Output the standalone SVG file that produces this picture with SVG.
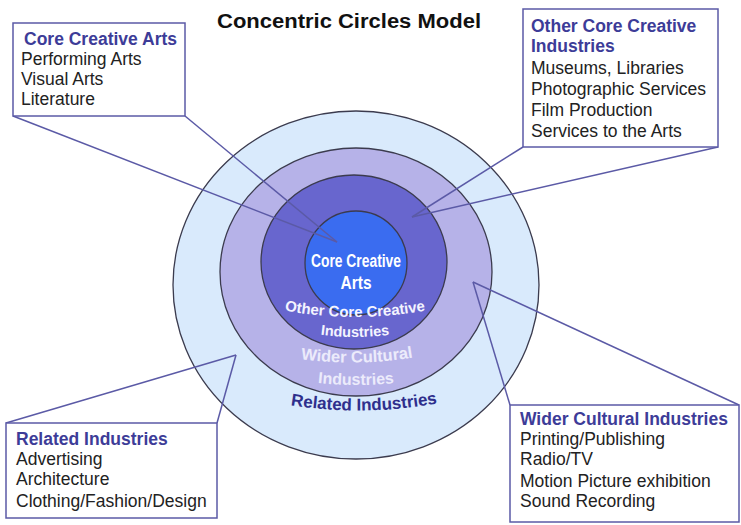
<svg xmlns="http://www.w3.org/2000/svg" width="741" height="525" viewBox="0 0 741 525">
<defs>
<style>
.box{fill:#ffffff;stroke:#5b5aa6;stroke-width:1.5}
.lead{fill:none;stroke:#5b5aa6;stroke-width:1.5}
.ring{stroke:#3b3b4e;stroke-width:1.3}
.hd{font-family:"Liberation Sans",Arial,sans-serif;font-weight:bold;font-size:17.5px;fill:#3d3c98}
.bd{font-family:"Liberation Sans",Arial,sans-serif;font-size:17.5px;fill:#222222}
.ct{font-family:"Liberation Sans",Arial,sans-serif;font-weight:bold;text-anchor:middle}
.title{font-family:"Liberation Sans",Arial,sans-serif;font-weight:bold;font-size:20px;fill:#111111}
</style>
<path id="p1" d="M 282,310 Q 355,324 428,310"/>
<path id="p2" d="M 314,334 Q 355,340 396,334"/>
<path id="p3" d="M 292,358 Q 357,368 422,356"/>
<path id="p4" d="M 308,382 Q 356,388 404,382"/>
<path id="p5" d="M 284,404 Q 363,418 444,402"/>
</defs>
<text class="title" x="217" y="28" textLength="264" lengthAdjust="spacingAndGlyphs">Concentric Circles Model</text>
<g id="circles">
<ellipse class="ring" cx="356" cy="285" rx="183" ry="174" fill="#d9eafc"/>
<ellipse class="ring" cx="356" cy="272" rx="136" ry="124" fill="#b6b2e8"/>
<ellipse class="ring" cx="354" cy="262" rx="93" ry="87" fill="#6866ce"/>
<ellipse class="ring" cx="356" cy="263" rx="51" ry="52" fill="#3a6cf0"/>
<text class="ct" x="356" y="267" font-size="17.5" fill="#ffffff" textLength="90" lengthAdjust="spacingAndGlyphs">Core Creative</text>
<text class="ct" x="356" y="289" font-size="17.5" fill="#ffffff" textLength="31" lengthAdjust="spacingAndGlyphs">Arts</text>
<text class="ct" font-size="15" fill="#f4f4ff"><textPath href="#p1" startOffset="50%">Other Core Creative</textPath></text>
<text class="ct" font-size="14.5" fill="#f4f4ff"><textPath href="#p2" startOffset="50%">Industries</textPath></text>
<text class="ct" font-size="16.5" fill="#ecebfb"><textPath href="#p3" startOffset="50%">Wider Cultural</textPath></text>
<text class="ct" font-size="16" fill="#ecebfb"><textPath href="#p4" startOffset="50%">Industries</textPath></text>
<text class="ct" font-size="17" fill="#2e2f8c"><textPath href="#p5" startOffset="50%">Related Industries</textPath></text>
</g>
<g id="connectors">
<line class="lead" x1="13" y1="116" x2="337" y2="242"/>
<line class="lead" x1="185" y1="116" x2="337" y2="242"/>
<line class="lead" x1="523" y1="147" x2="412" y2="217"/>
<line class="lead" x1="718" y1="147" x2="412" y2="217"/>
<line class="lead" x1="6" y1="423" x2="236" y2="355"/>
<line class="lead" x1="217" y1="423" x2="236" y2="355"/>
<line class="lead" x1="510" y1="405" x2="473" y2="282"/>
<line class="lead" x1="739" y1="405" x2="473" y2="282"/>
</g>
<g id="box-core">
<rect class="box" x="13" y="23" width="172" height="93"/>
<text class="hd" x="24" y="45">Core Creative Arts</text>
<text class="bd" x="21" y="65">Performing Arts</text>
<text class="bd" x="21" y="85">Visual Arts</text>
<text class="bd" x="21" y="105">Literature</text>
</g>
<g id="box-other">
<rect class="box" x="523" y="9" width="195" height="138"/>
<text class="hd" x="531" y="32">Other Core Creative</text>
<text class="hd" x="531" y="52">Industries</text>
<text class="bd" x="531" y="74">Museums, Libraries</text>
<text class="bd" x="531" y="95">Photographic Services</text>
<text class="bd" x="531" y="116">Film Production</text>
<text class="bd" x="531" y="137">Services to the Arts</text>
</g>
<g id="box-related">
<rect class="box" x="6" y="423" width="211" height="95"/>
<text class="hd" x="16" y="445">Related Industries</text>
<text class="bd" x="16" y="465">Advertising</text>
<text class="bd" x="16" y="485">Architecture</text>
<text class="bd" x="16" y="507">Clothing/Fashion/Design</text>
</g>
<g id="box-wider">
<rect class="box" x="510" y="405" width="229" height="117"/>
<text class="hd" x="520" y="425">Wider Cultural Industries</text>
<text class="bd" x="520" y="445">Printing/Publishing</text>
<text class="bd" x="520" y="465">Radio/TV</text>
<text class="bd" x="520" y="487">Motion Picture exhibition</text>
<text class="bd" x="520" y="507">Sound Recording</text>
</g>
</svg>
